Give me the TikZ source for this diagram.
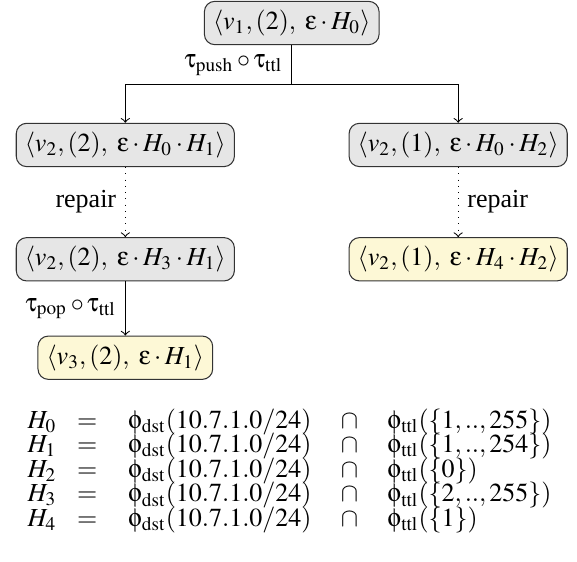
\documentclass[tikz,border=0pt]{standalone}
\usepackage{mathptmx}
\usepackage{fontspec}
\setmainfont{Liberation Serif}
\usetikzlibrary{positioning}
\DeclareSymbolFont{upsym}{U}{psy}{m}{n}
\DeclareMathSymbol{\gtau}{\mathord}{upsym}{`t}
\DeclareMathSymbol{\geps}{\mathord}{upsym}{`e}
\DeclareMathSymbol{\gphi}{\mathord}{upsym}{`f}
\definecolor{pending}{HTML}{E6E6E6}
\definecolor{solved}{HTML}{FDF8D6}

\begin{document}
\begin{tikzpicture}[thin,
  state/.style={draw=black!80, rounded corners, fill=pending, inner sep=3.33pt},
  final/.style={state, fill=solved}]
  \useasboundingbox (-112.2pt,8.85pt) rectangle (109.7pt,-206.9pt);
  \node[state] (root) at (0,0) {$\langle v_1,(2),\ \geps\cdot H_0\rangle$};
  \node[state] (push) at (-64pt,-46.9pt) {$\langle v_2,(2),\ \geps\cdot H_0\cdot H_1\rangle$};
  \node[state] (drop) at (64pt,-46.9pt) {$\langle v_2,(1),\ \geps\cdot H_0\cdot H_2\rangle$};
  \node[state, below=26.9pt of push] (fixed) {$\langle v_2,(2),\ \geps\cdot H_3\cdot H_1\rangle$};
  \node[final, below=26.9pt of drop] (fixdrop) {$\langle v_2,(1),\ \geps\cdot H_4\cdot H_2\rangle$};
  \node[final, below=20.8pt of fixed] (pop) {$\langle v_3,(2),\ \geps\cdot H_1\rangle$};
  \coordinate (split) at (0,-23.7pt);
  \draw (root) -- node[left] {$\gtau_{\mathrm{push}}\circ\gtau_{\mathrm{ttl}}$} (split);
  \draw[->] (split) -| (push);
  \draw[->] (split) -| (drop);
  \draw[->, dotted] (push) -- node[left] {repair} (fixed);
  \draw[->, dotted] (drop) -- node[right] {repair} (fixdrop);
  \draw[->] (fixed) -- node[left] {$\gtau_{\mathrm{pop}}\circ\gtau_{\mathrm{ttl}}$} (pop);
  % header space definitions
  \foreach \k/\rng in {0/{1,..,255}, 1/{1,..,254}, 2/{0}, 3/{2,..,255}, 4/{1}} {
    \node[anchor=base west, inner sep=0pt] (hname\k) at (-101.8pt,{-155.8pt-\k*9.46pt}) {$H_\k$};
    \node[anchor=base, inner sep=0pt] (heq\k) at (-78.7pt,{-155.8pt-\k*9.46pt}) {$=$};
    \node[anchor=base west, inner sep=0pt] (hdst\k) at (-63pt,{-155.8pt-\k*9.46pt}) {$\gphi_{\mathrm{dst}}(10.7.1.0/24)$};
    \node[anchor=base, inner sep=0pt] (hcap\k) at (22.2pt,{-155.8pt-\k*9.46pt}) {$\cap$};
    \node[anchor=base west, inner sep=0pt] (httl\k) at (36.7pt,{-155.8pt-\k*9.46pt}) {$\gphi_{\mathrm{ttl}}(\{\rng\})$};
  }
\end{tikzpicture}
\end{document}
